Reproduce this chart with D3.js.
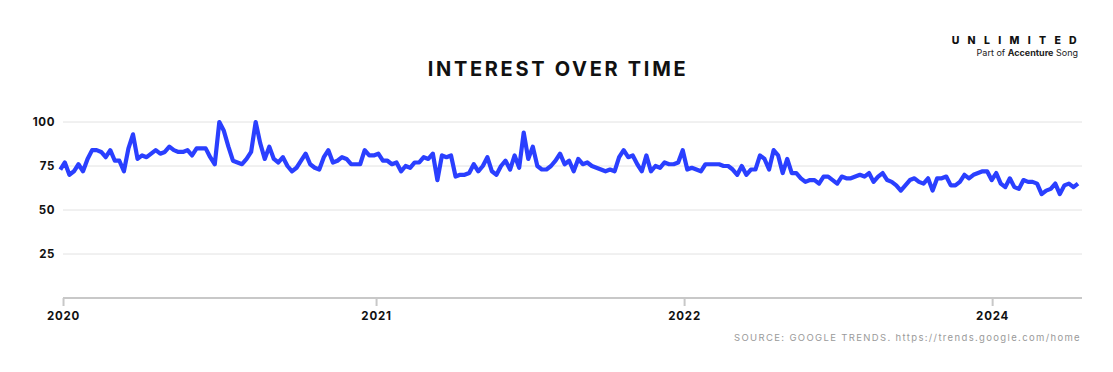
<!DOCTYPE html>
<html lang="en">
<head>
    <meta charset="UTF-8">
    <title>Interest over time</title>
    <script src="https://d3js.org/d3.v7.min.js"></script>
    <style>
        body { margin: 0; background: #fff; }
        text { font-family: Inter, "DejaVu Sans", sans-serif; }
    </style>
</head>
<body>

<div id="my_dataviz"></div>

<script>
    // weekly Google Trends interest
    var interest = [73, 77, 70, 72, 76, 72, 79, 84, 84, 83, 80, 84, 78, 78, 72, 85, 93, 79, 81, 80,
        82, 84, 82, 83, 86, 84, 83, 83, 84, 81, 85, 85, 85, 80, 76, 100, 95, 86, 78, 77,
        76, 79, 83, 100, 88, 79, 86, 79, 77, 80, 75, 72, 74, 78, 82, 76, 74, 73, 80, 84,
        77, 78, 80, 79, 76, 76, 76, 84, 81, 81, 82, 78, 78, 76, 77, 72, 75, 74, 77, 77,
        80, 79, 82, 67, 81, 80, 81, 69, 70, 70, 71, 76, 72, 75, 80, 72, 70, 75, 78, 73,
        81, 74, 94, 79, 86, 75, 73, 73, 75, 78, 82, 76, 78, 72, 79, 76, 77, 75, 74, 73,
        72, 73, 72, 80, 84, 80, 81, 76, 72, 81, 72, 75, 74, 77, 76, 76, 77, 84, 73, 74,
        73, 72, 76, 76, 76, 76, 75, 75, 73, 70, 75, 70, 73, 73, 81, 79, 73, 84, 81, 71,
        79, 71, 71, 68, 66, 67, 67, 65, 69, 69, 67, 65, 69, 68, 68, 69, 70, 69, 71, 66,
        69, 71, 67, 66, 64, 61, 64, 67, 68, 66, 65, 68, 61, 68, 68, 69, 64, 64, 66, 70,
        68, 70, 71, 72, 72, 67, 71, 65, 63, 68, 63, 62, 67, 66, 66, 65, 59, 61, 62, 65,
        59, 64, 65, 63, 65];

    var yTicks = [25, 50, 75, 100];
    var xTickLabels = ["2020", "2021", "2022", "2024"];
    var xTickIndex = [0.6, 69.5, 137.3, 205.1];

    var W = 1113, H = 372;
    var plotLeft = 60.3, plotRight = 1078, plotTop = 122, plotBottom = 298;

    var svg = d3.select("#my_dataviz").append("svg")
        .attr("width", W)
        .attr("height", H);

    var x = d3.scaleLinear()
        .domain([0, interest.length - 1])
        .range([plotLeft, plotRight]);

    var y = d3.scaleLinear()
        .domain([0, 100])
        .range([plotBottom, plotTop]);

    // title
    svg.append("text")
        .attr("x", 558)
        .attr("y", 76)
        .attr("text-anchor", "middle")
        .style("font-size", "20px")
        .style("font-weight", 700)
        .style("letter-spacing", "2.7px")
        .attr("fill", "#111")
        .text("INTEREST OVER TIME");

    // logo
    svg.append("text")
        .attr("x", 1085)
        .attr("y", 43.5)
        .attr("text-anchor", "end")
        .style("font-size", "10.5px")
        .style("font-weight", 800)
        .style("letter-spacing", "8.3px")
        .attr("fill", "#111")
        .text("UNLIMITED");

    var sub = svg.append("text")
        .attr("x", 1078)
        .attr("y", 56)
        .attr("text-anchor", "end")
        .style("font-size", "9px")
        .attr("fill", "#222");
    sub.append("tspan").text("Part of ");
    sub.append("tspan").style("font-weight", 700).text("Accenture");
    sub.append("tspan").text(" Song");

    // gridlines + y labels
    svg.append("g")
        .selectAll("line")
        .data(yTicks)
        .join("line")
        .attr("x1", 63)
        .attr("x2", 1082)
        .attr("y1", function(d) { return y(d) })
        .attr("y2", function(d) { return y(d) })
        .attr("stroke", "#e2e2e2")
        .attr("stroke-width", 1);

    svg.append("g")
        .selectAll("text")
        .data(yTicks)
        .join("text")
        .attr("x", 55)
        .attr("y", function(d) { return y(d) + 4 })
        .attr("text-anchor", "end")
        .style("font-size", "11.5px")
        .style("font-weight", 700)
        .style("letter-spacing", "0.6px")
        .attr("fill", "#111")
        .text(function(d) { return d });

    // x axis
    var xAxis = svg.append("g")
        .attr("transform", "translate(0," + plotBottom + ")")
        .call(d3.axisBottom(x)
            .tickValues(xTickIndex)
            .tickFormat(function(d, i) { return xTickLabels[i] })
            .tickSize(8)
            .tickPadding(6));
    xAxis.select(".domain")
        .attr("d", "M63,0H1082")
        .attr("stroke", "#c8c8c8")
        .attr("stroke-width", 2);
    xAxis.selectAll(".tick line")
        .attr("stroke", "#c8c8c8")
        .attr("stroke-width", 2);
    xAxis.selectAll(".tick text")
        .style("font-family", "Inter, sans-serif")
        .style("font-size", "11.5px")
        .style("font-weight", 700)
        .style("letter-spacing", "0.8px")
        .attr("fill", "#111");

    // the line
    svg.append("path")
        .datum(interest)
        .attr("fill", "none")
        .attr("stroke", "#2a3fff")
        .attr("stroke-width", 4.2)
        .attr("stroke-linejoin", "round")
        .attr("d", d3.line()
            .x(function(d, i) { return x(i) })
            .y(function(d) { return y(d) })
        );

    // source
    svg.append("text")
        .attr("x", 1081)
        .attr("y", 341)
        .attr("text-anchor", "end")
        .style("font-size", "9.5px")
        .style("letter-spacing", "1.35px")
        .attr("fill", "#9a9a9a")
        .text("SOURCE: GOOGLE TRENDS. https://trends.google.com/home");
</script>

</body>
</html>
